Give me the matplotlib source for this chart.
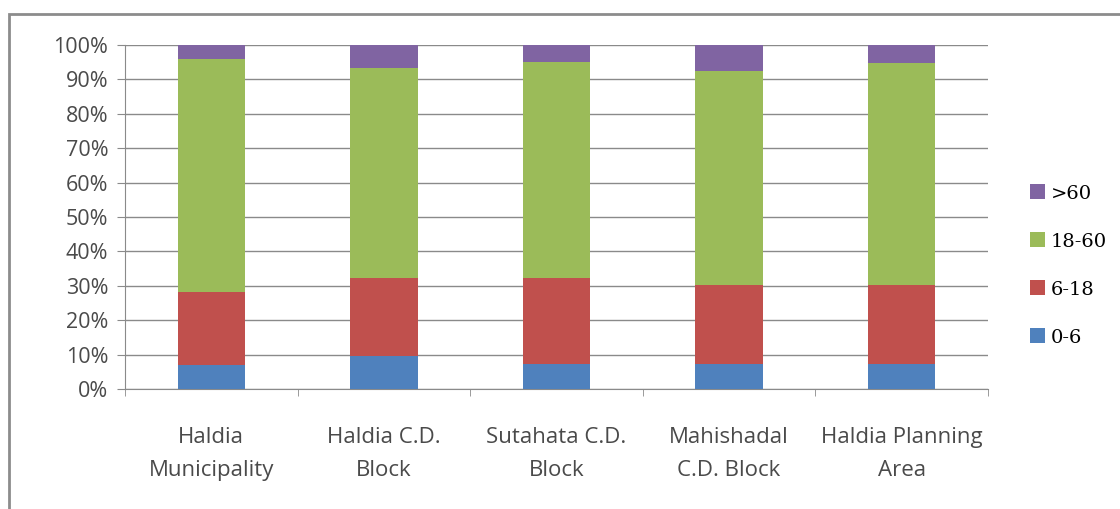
import matplotlib.pyplot as plt
import numpy as np
from matplotlib.patches import Rectangle

# areas and age-group shares (percent)
areas = ['Haldia\nMunicipality', 'Haldia C.D.\nBlock', 'Sutahata C.D.\nBlock',
         'Mahishadal\nC.D. Block', 'Haldia Planning\nArea']
age_0_6 = [7.0, 9.6, 7.2, 7.2, 7.2]
age_6_18 = [21.3, 22.6, 25.2, 22.9, 22.9]
age_18_60 = [67.5, 61.0, 62.6, 62.3, 64.6]
age_60 = [4.2, 6.8, 5.0, 7.6, 5.3]

groups = ['0-6', '6-18', '18-60', '>60']
series = [age_0_6, age_6_18, age_18_60, age_60]
colors = ['#4F81BD', '#C0504D', '#9BBB59', '#8064A2']

fig = plt.figure(figsize=(11.2, 5.09), dpi=100)
ax = fig.add_axes([125/1120, 120/509, 863/1120, 344/509])

# outer chart frame
fig.patches.append(Rectangle((9/1120, -0.1), 1.2, 1 - 14/509 + 0.1,
                             transform=fig.transFigure, fill=False,
                             edgecolor='#8c8c8c', linewidth=2))

x = np.arange(len(areas))
bottom = np.zeros(len(areas))
bars = []
for vals, col, lab in zip(series, colors, groups):
    b = ax.bar(x, vals, width=0.39, bottom=bottom, color=col, label=lab, zorder=3)
    bars.append(b)
    bottom += np.array(vals)

ax.set_xlim(-0.5, len(areas) - 0.5)
ax.set_ylim(0, 100)
ax.set_yticks(np.arange(0, 101, 10))
ax.set_yticklabels([f'{v}%' for v in range(0, 101, 10)],
                   fontsize=15.5, color='#4a4a4a', family='Open Sans')
ax.yaxis.grid(True, color='#8a8a8a', linewidth=1, zorder=0)

ax.set_xticks(x)
ax.set_xticklabels(areas, fontsize=16, color='#4a4a4a', family='Open Sans',
                   linespacing=1.75)
ax.tick_params(axis='x', length=0, pad=27.5)
ax.set_xticks(np.arange(-0.5, len(areas), 1), minor=True)
ax.tick_params(axis='x', which='minor', length=5, color='#8a8a8a', direction='out')
ax.tick_params(axis='y', length=6, color='#8a8a8a', direction='out', pad=6)

for side in ['top', 'right']:
    ax.spines[side].set_visible(False)
for side in ['left', 'bottom']:
    ax.spines[side].set_color('#8a8a8a')

handles = [b[0] for b in bars][::-1]
labels = groups[::-1]
fig.legend(handles, labels, loc='center left', bbox_to_anchor=(1012/1120, 1 - 265.5/509),
           frameon=False, handlelength=0.8, handleheight=0.8, handletextpad=0.3,
           labelspacing=1.53, prop={'family': 'DejaVu Serif', 'size': 14})

fig.savefig('out.png', dpi=100)
